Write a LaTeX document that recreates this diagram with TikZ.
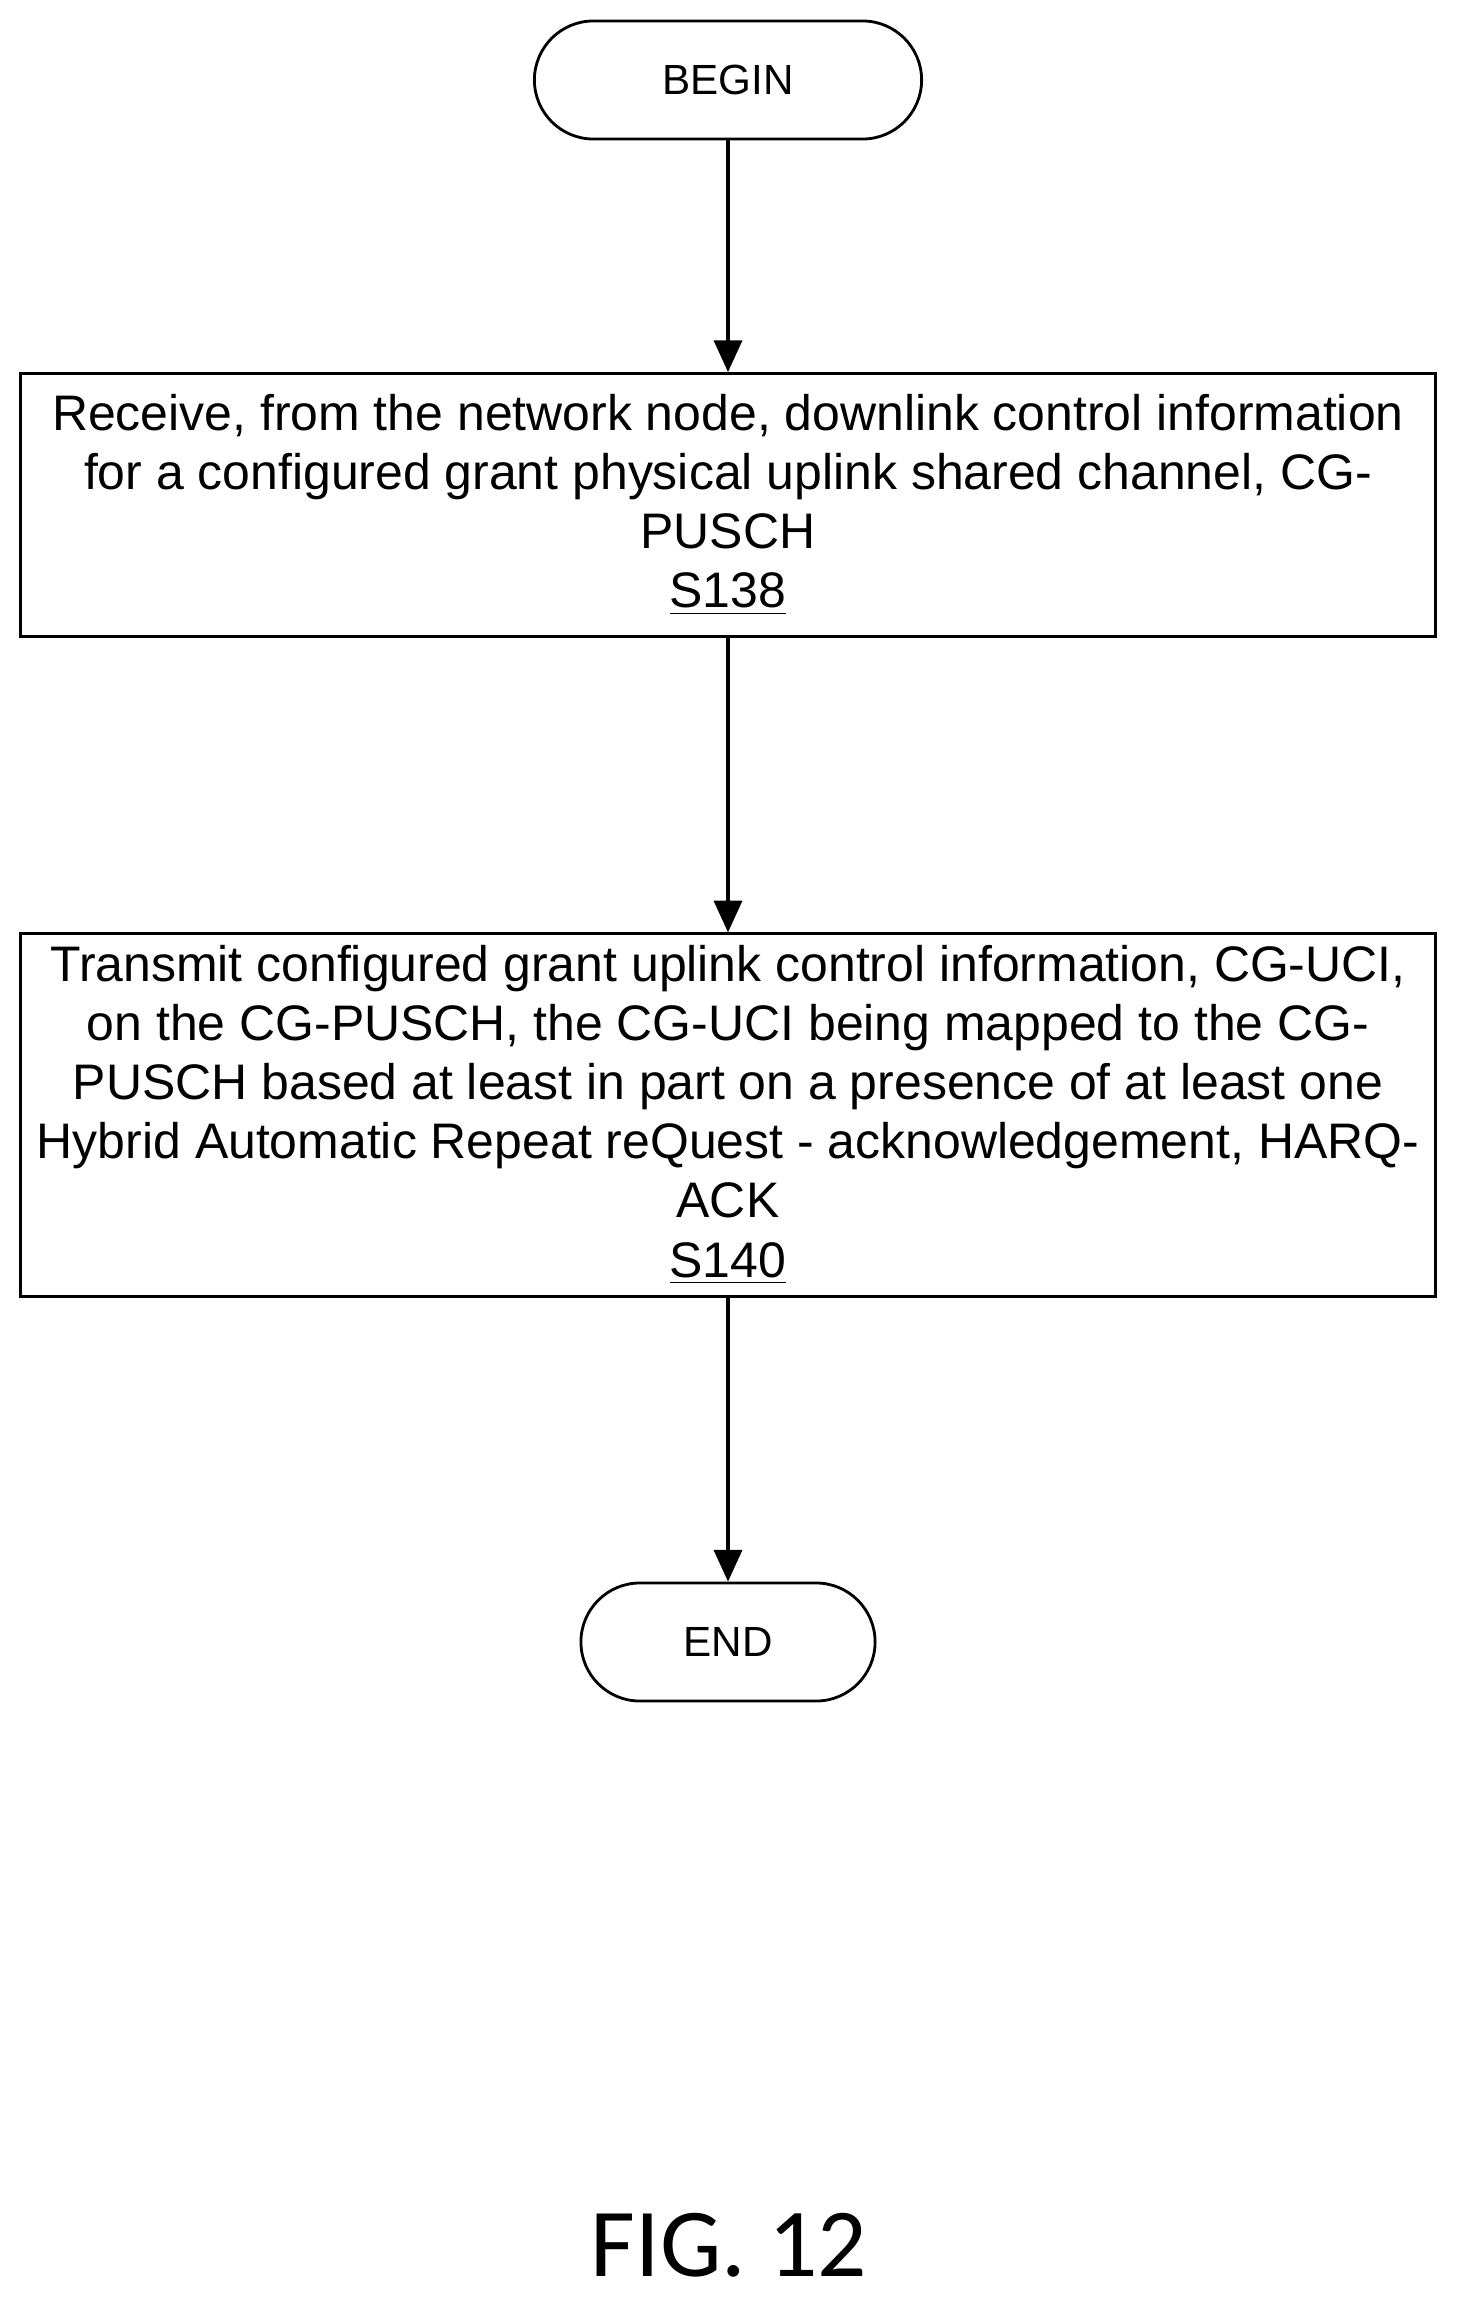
\documentclass[tikz,border=0pt]{standalone}
\usepackage{fontspec}
\setmainfont{Liberation Sans}
\newfontfamily\figfont{Carlito}
\usetikzlibrary{arrows.meta}
\begin{document}
\begin{tikzpicture}[x=0.01cm,y=-0.01cm,
  every node/.style={font=\fontsize{12}{16.8}\selectfont},
  term/.style={draw,line width=0.8pt,rounded corners=0.59cm,minimum width=3.87cm,minimum height=1.18cm},
  box/.style={draw,line width=0.8pt,minimum width=14.14cm,align=center,font=\fontsize{14.2}{16.8}\selectfont},
  arr/.style={line width=0.9pt,-{Triangle[length=9pt,width=8pt]}}]
\useasboundingbox (0,0) rectangle (1460,2306);
\node[term] (b) at (728,80) {BEGIN};
\node[box,minimum height=2.63cm] (s1) at (728,505) {Receive, from the network node, downlink control information\\for a configured grant physical uplink shared channel, CG-\\PUSCH\\\underline{S138}};
\node[box,minimum height=3.52cm] (s2) at (728,1115) {Transmit configured grant uplink control information, CG-UCI,\\on the CG-PUSCH, the CG-UCI being mapped to the CG-\\PUSCH based at least in part on a presence of at least one\\Hybrid Automatic Repeat reQuest - acknowledgement, HARQ-\\ACK\\\underline{S140}};
\node[term,minimum width=2.94cm] (e) at (728,1642) {END};
\draw[arr] (b) -- (s1);
\draw[arr] (s1) -- (s2);
\draw[arr] (s2) -- (e);
\node[font=\figfont\fontsize{27.7}{30}\selectfont] (f) at (729,2245) {FIG. 12};
\end{tikzpicture}
\end{document}
